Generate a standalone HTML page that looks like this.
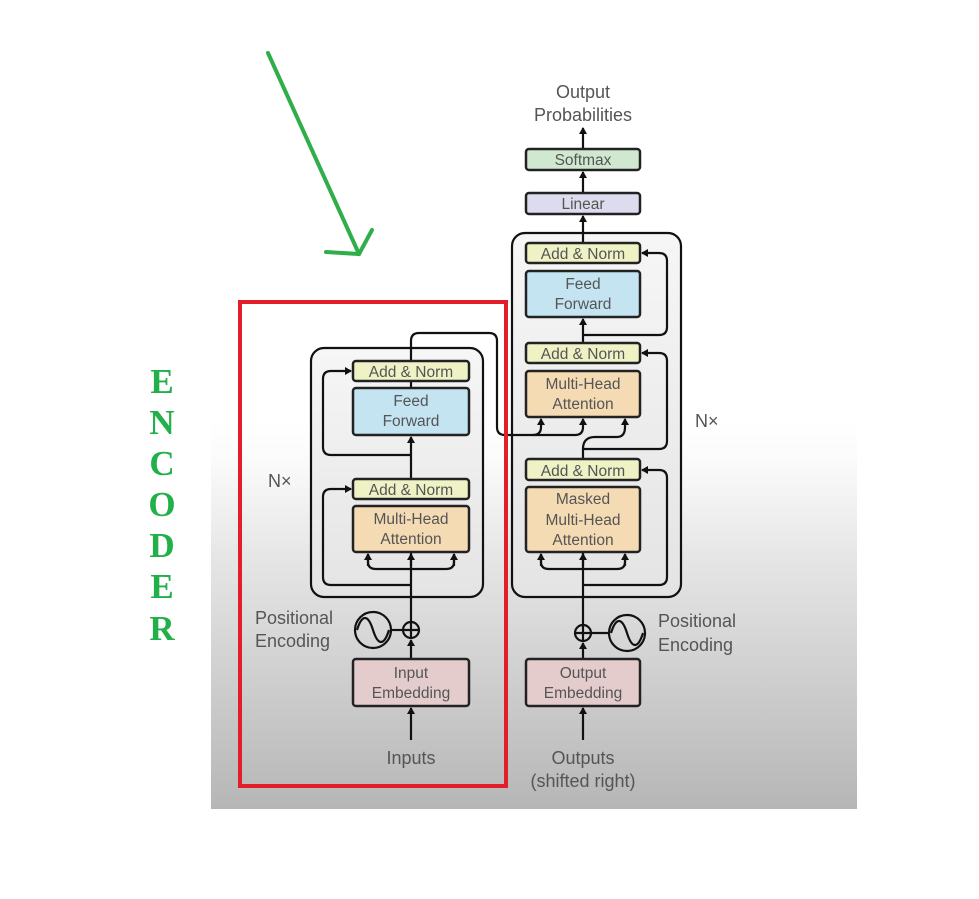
<!DOCTYPE html>
<html><head><meta charset="utf-8"><style>
html,body{margin:0;padding:0;background:#fff;}
body{width:979px;height:899px;overflow:hidden;position:relative;}
svg{position:absolute;left:0;top:0;}
.t{font-family:"Liberation Sans",sans-serif;fill:#555;font-size:15.5px;text-anchor:middle;}
.l{font-family:"Liberation Sans",sans-serif;fill:#555;font-size:18px;}
.e{font-family:"Liberation Serif",serif;font-weight:bold;fill:#22b04a;font-size:35px;text-anchor:middle;}
</style></head><body>
<svg width="979" height="899" viewBox="0 0 979 899">
<defs>
<linearGradient id="bg" x1="0" y1="0" x2="0" y2="1">
<stop offset="0" stop-color="#fff"/><stop offset="0.1" stop-color="#fbfbfb"/><stop offset="0.35" stop-color="#e6e6e6"/><stop offset="1" stop-color="#b6b6b6"/>
</linearGradient>
<linearGradient id="bx" x1="0" y1="0" x2="0" y2="1">
<stop offset="0" stop-color="#f6f6f6"/><stop offset="1" stop-color="#e4e4e4"/>
</linearGradient>
<marker id="a" markerWidth="8" markerHeight="8" refX="6" refY="4" orient="auto" markerUnits="userSpaceOnUse"><path d="M0,0 L7,4 L0,8 Z" fill="#111"/></marker>
</defs>
<rect x="211" y="420" width="646" height="389" fill="url(#bg)"/>
<g stroke="#111" stroke-width="2.2" fill="none">
<rect x="311" y="348" width="172" height="249" rx="13" fill="url(#bx)"/>
<rect x="512" y="233" width="169" height="364" rx="13" fill="url(#bx)"/>
<path d="M411,740 V708" marker-end="url(#a)"/>
<path d="M411,659 V640" marker-end="url(#a)"/>
<path d="M411,622 V506"/>
<path d="M411,585 H331 Q323,585 323,577 V497 Q323,489 331,489 H351" marker-end="url(#a)"/>
<path d="M368,554 V562 Q368,569 376,569 H446 Q454,569 454,562 V554"/>
<path d="M368,566 V554" marker-end="url(#a)"/>
<path d="M454,566 V554" marker-end="url(#a)"/>
<path d="M411,566 V554" marker-end="url(#a)"/>
<path d="M411,499 V437" marker-end="url(#a)"/>
<path d="M411,455 H331 Q323,455 323,447 V379 Q323,371 331,371 H351" marker-end="url(#a)"/>
<path d="M411,388 V341 Q411,333 419,333 H489 Q497,333 497,341 V427 Q497,435 505,435 H533 Q541,435 541,427 V419" marker-end="url(#a)"/>
<path d="M533,435 H575 Q583,435 583,427 V419" marker-end="url(#a)"/>
<path d="M583,740 V708" marker-end="url(#a)"/>
<path d="M583,659 V643" marker-end="url(#a)"/>
<path d="M583,625 V552"/>
<path d="M583,585 H659 Q667,585 667,577 V478 Q667,470 659,470 H642" marker-end="url(#a)"/>
<path d="M541,554 V562 Q541,569 549,569 H617 Q625,569 625,562 V554"/>
<path d="M541,566 V554" marker-end="url(#a)"/>
<path d="M625,566 V554" marker-end="url(#a)"/>
<path d="M583,566 V554" marker-end="url(#a)"/>
<path d="M583,459 V449 H659 Q667,449 667,441 V361 Q667,353 659,353 H642" marker-end="url(#a)"/>
<path d="M583,449 Q583,437 595,437 H617 Q625,437 625,427 V419" marker-end="url(#a)"/>
<path d="M583,363 V319" marker-end="url(#a)"/>
<path d="M583,335 H659 Q667,335 667,327 V261 Q667,253 659,253 H642" marker-end="url(#a)"/>
<path d="M583,243 V216" marker-end="url(#a)"/>
<path d="M583,193 V172" marker-end="url(#a)"/>
<path d="M583,149 V128" marker-end="url(#a)"/>
<circle cx="373" cy="630" r="18"/>
<path d="M357,630 C362,614 368,614 373,630 C378,646 384,646 389,630"/>
<path d="M391,630 H403"/>
<circle cx="411" cy="630" r="8"/><path d="M403,630 H419 M411,622 V638"/>
<circle cx="627" cy="633" r="18"/>
<path d="M611,633 C616,617 622,617 627,633 C632,649 638,649 643,633"/>
<path d="M591,633 H609"/>
<circle cx="583" cy="633" r="8"/><path d="M575,633 H591 M583,625 V641"/>
</g>
<g stroke="#222" stroke-width="2.5">
<rect x="353" y="361" width="116" height="20" rx="3" fill="#eef2c4"/>
<rect x="353" y="388" width="116" height="47" rx="3" fill="#c4e4f2"/>
<rect x="353" y="479" width="116" height="20" rx="3" fill="#eef2c4"/>
<rect x="353" y="506" width="116" height="46" rx="3" fill="#f5dbb4"/>
<rect x="353" y="659" width="116" height="47" rx="3" fill="#e5cccc"/>
<rect x="526" y="243" width="114" height="20" rx="3" fill="#eef2c4"/>
<rect x="526" y="271" width="114" height="46" rx="3" fill="#c4e4f2"/>
<rect x="526" y="343" width="114" height="20" rx="3" fill="#eef2c4"/>
<rect x="526" y="371" width="114" height="46" rx="3" fill="#f5dbb4"/>
<rect x="526" y="459" width="114" height="21" rx="3" fill="#eef2c4"/>
<rect x="526" y="487" width="114" height="65" rx="3" fill="#f5dbb4"/>
<rect x="526" y="659" width="114" height="47" rx="3" fill="#e5cccc"/>
<rect x="526" y="193" width="114" height="21" rx="3" fill="#dcdcee"/>
<rect x="526" y="149" width="114" height="21" rx="3" fill="#cfe8cf"/>
</g>
<g class="t">
<text x="411" y="377">Add &amp; Norm</text>
<text x="411" y="406">Feed</text><text x="411" y="426">Forward</text>
<text x="411" y="495">Add &amp; Norm</text>
<text x="411" y="524">Multi-Head</text><text x="411" y="544">Attention</text>
<text x="411" y="678">Input</text><text x="411" y="698">Embedding</text>
<text x="583" y="259">Add &amp; Norm</text>
<text x="583" y="289">Feed</text><text x="583" y="309">Forward</text>
<text x="583" y="359">Add &amp; Norm</text>
<text x="583" y="389">Multi-Head</text><text x="583" y="409">Attention</text>
<text x="583" y="476">Add &amp; Norm</text>
<text x="583" y="504">Masked</text><text x="583" y="525">Multi-Head</text><text x="583" y="545">Attention</text>
<text x="583" y="678">Output</text><text x="583" y="698">Embedding</text>
<text x="583" y="209">Linear</text>
<text x="583" y="165">Softmax</text>
</g>
<g class="l">
<text x="583" y="98" text-anchor="middle">Output</text>
<text x="583" y="121" text-anchor="middle">Probabilities</text>
<text x="268" y="487">N×</text>
<text x="695" y="427">N×</text>
<text x="255" y="624">Positional</text><text x="255" y="647">Encoding</text>
<text x="658" y="627">Positional</text><text x="658" y="651">Encoding</text>
<text x="411" y="764" text-anchor="middle">Inputs</text>
<text x="583" y="764" text-anchor="middle">Outputs</text>
<text x="583" y="787" text-anchor="middle">(shifted right)</text>
</g>
<rect x="240" y="302" width="266" height="484" fill="none" stroke="#e21f26" stroke-width="4"/>
<g stroke="#2fae4a" stroke-width="4" fill="none" stroke-linecap="round">
<path d="M268,53 L359,254"/><path d="M326,252 L359,254 L372,230"/>
</g>
<g class="e">
<text x="162" y="393">E</text><text x="162" y="434">N</text><text x="162" y="475">C</text>
<text x="162" y="516">O</text><text x="162" y="557">D</text><text x="162" y="598">E</text><text x="162" y="640">R</text>
</g>
</svg>
</body></html>
